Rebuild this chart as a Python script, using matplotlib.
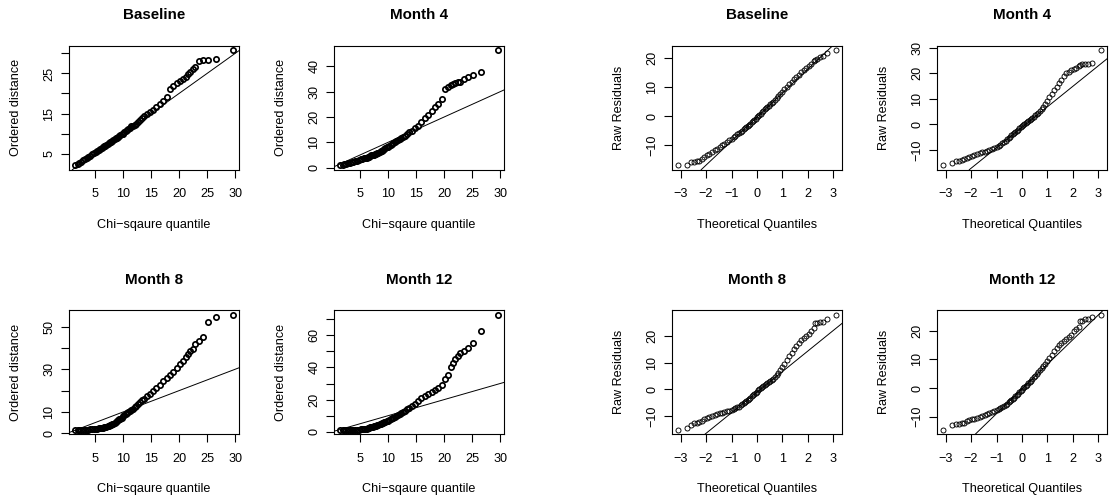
import math
from statistics import NormalDist

import matplotlib
matplotlib.use("Agg")
import matplotlib.pyplot as plt

plt.rcParams["font.family"] = ["Liberation Sans", "DejaVu Sans"]

FIG_W, FIG_H = 1114, 499
N_OBS = 500
CHISQ_DF = 10

# ranks (out of N_OBS) of the ordered observations that are drawn
chisq_ranks = [1, 2, 3, 5, 8, 12, 17, 23, 30,
               40, 50, 60, 70, 80, 90, 100, 110, 120, 130, 140, 150, 160, 170, 180, 190, 200,
               210, 220, 230, 240, 250, 260, 270, 280, 290, 300, 310, 320, 330, 340, 350,
               360, 370, 380, 390, 400, 410, 420, 430, 440, 450,
               458, 465, 471, 476, 480, 484, 487, 489,
               491, 492, 493, 494, 495, 496, 497, 498, 499, 500]

normal_ranks = [1, 2, 3, 4, 5, 6, 8, 10, 13, 16, 20, 25, 30, 36, 43, 50,
                60, 70, 80, 90, 100, 110, 120, 130, 140, 150, 160, 170, 180, 190, 200,
                210, 220, 230, 240, 250,
                260, 270, 280, 290, 300, 310, 320, 330, 340, 350, 360, 370, 380, 390,
                400, 410, 420, 430, 440,
                450, 457, 464, 470, 475, 480, 484, 487, 490, 492, 494, 495, 496, 497,
                498, 499, 500]

# ordered Mahalanobis distances
dist_baseline = [2.1, 2.4, 2.7, 3.0, 3.3, 3.6, 3.9, 4.2, 4.5,
                 4.8, 5.1, 5.4, 5.7, 6.0, 6.2, 6.4, 6.6, 6.8, 7.0, 7.2, 7.4, 7.6, 7.8, 8.0, 8.2, 8.4,
                 8.6, 8.8, 9.0, 9.2, 9.4, 9.6, 9.8, 10.0, 10.3, 10.6, 10.9, 11.2, 11.5, 11.8, 12.0,
                 12.2, 12.5, 13.0, 13.5, 14.0, 14.4, 14.9, 15.4, 16.0, 16.7,
                 17.4, 18.1, 19.0, 21.0, 21.8, 22.5, 23.0, 23.5,
                 24.2, 24.8, 25.4, 26.0, 26.6, 28.2, 28.3, 28.4, 28.5, 30.8]
dist_month4 = [1.0, 1.2, 1.4, 1.6, 1.8, 1.9, 2.1, 2.3, 2.5,
               2.8, 3.1, 3.3, 3.5, 3.7, 3.9, 4.0, 4.2, 4.4, 4.6, 4.8, 5.0, 5.1, 5.3, 5.4, 5.6, 5.8,
               6.1, 6.4, 6.7, 7.0, 7.3, 7.6, 8.0, 8.3, 8.6, 9.0, 9.4, 9.7, 10.1, 10.5, 10.9,
               11.3, 11.6, 12.1, 12.6, 13.2, 13.9, 14.6, 15.5, 16.6, 18.0,
               19.6, 20.8, 22.3, 23.8, 25.2, 27.3, 31.0, 32.0,
               32.6, 33.0, 33.4, 33.7, 34.0, 35.2, 36.0, 36.5, 37.9, 46.4]
dist_month8 = [1.7, 1.7, 1.7, 1.7, 1.7, 1.7, 1.7, 1.7, 1.8,
               1.9, 2.0, 2.1, 2.2, 2.3, 2.4, 2.5, 2.7, 2.9, 3.0, 3.1, 3.3, 3.5, 3.7, 4.0, 4.3, 4.6,
               4.9, 5.3, 5.7, 6.1, 6.5, 6.9, 7.4, 7.9, 8.4, 8.9, 9.4, 9.9, 10.5, 11.0, 11.6,
               12.2, 12.9, 13.7, 14.5, 15.4, 16.3, 17.4, 18.6, 20.0, 21.3,
               22.8, 24.3, 25.9, 27.4, 28.6, 30.4, 32.3, 34.0,
               35.8, 37.0, 38.4, 39.6, 41.7, 43.5, 45.0, 52.3, 54.7, 55.5]
dist_month12 = [1.3, 1.3, 1.3, 1.4, 1.4, 1.4, 1.4, 1.4, 1.4,
                1.4, 1.4, 1.5, 1.5, 1.6, 1.7, 1.9, 2.1, 2.4, 2.7, 2.9, 3.2, 3.4, 3.7, 3.9, 4.1, 4.4,
                4.7, 5.0, 5.3, 5.6, 5.9, 6.2, 6.6, 7.0, 7.4, 7.8, 8.3, 8.7, 9.2, 9.7, 10.3,
                10.9, 11.5, 12.2, 13.0, 13.9, 14.8, 15.8, 17.2, 19.0, 20.8,
                22.5, 23.8, 25.0, 26.0, 27.2, 29.0, 33.0, 35.5,
                40.5, 42.5, 45.5, 47.0, 49.0, 50.5, 52.4, 55.1, 62.7, 72.7]

# ordered raw residuals
resid_baseline = [-16.7, -16.7, -15.6, -15.5, -15.4, -15.2, -14.5, -14.0, -13.4, -12.9, -12.3, -11.7,
                  -11.1, -10.5, -9.9, -9.4,
                  -8.8, -8.2, -7.7, -7.2, -6.7, -6.2, -5.8, -5.4, -4.9, -4.5, -4.1, -3.7, -3.3, -2.9,
                  -2.5, -2.1, -1.7, -1.2, -0.8, -0.3,
                  0.1, 0.5, 0.9, 1.4, 1.8, 2.3, 2.7, 3.2, 3.6, 4.1, 4.5, 5.0, 5.5, 6.2, 6.9, 7.6,
                  8.4, 9.2, 10.1,
                  11.0, 11.8, 12.7, 13.5, 14.2, 15.0, 15.8, 16.4, 17.2, 17.9, 18.7, 19.1, 19.6, 20.1,
                  20.6, 21.6, 22.5]
resid_month4 = [-15.9, -15.2, -14.4, -14.2, -13.8, -13.4, -13.1, -12.8, -12.4, -12.0, -11.6, -11.2,
                -10.9, -10.6, -10.2, -9.9,
                -9.5, -9.1, -8.7, -8.3, -7.9, -7.4, -6.9, -6.3, -5.8, -5.3, -4.8, -4.3, -3.8, -3.3,
                -2.9, -2.4, -2.0, -1.5, -1.1, -0.7,
                -0.3, 0.1, 0.5, 0.9, 1.3, 1.7, 2.1, 2.5, 3.0, 3.5, 4.0, 4.6, 5.3, 6.1, 7.0, 8.1,
                9.3, 10.6, 12.0,
                13.6, 14.8, 16.2, 17.5, 18.8, 20.0, 20.7, 21.1, 21.6, 22.1, 22.9, 23.1, 23.5, 23.6,
                23.8, 24.1, 29.0]
resid_month8 = [-15.2, -14.6, -13.4, -12.8, -12.5, -12.3, -11.8, -11.3, -10.9, -10.5, -10.1, -9.7,
                -9.4, -9.1, -8.8, -8.5,
                -8.3, -8.0, -7.7, -7.4, -7.1, -6.8, -6.5, -6.1, -5.7, -5.3, -4.9, -4.5, -4.1, -3.6,
                -3.2, -2.7, -2.3, -1.8, -1.3, -0.9,
                -0.4, 0.0, 0.4, 0.8, 1.2, 1.6, 2.0, 2.4, 2.8, 3.2, 3.6, 3.9, 4.5, 5.3, 6.2, 7.2,
                8.3, 9.5, 10.9,
                12.4, 13.6, 15.0, 16.3, 17.3, 18.3, 19.1, 19.8, 20.6, 22.0, 23.0, 24.8, 25.0, 25.2,
                25.3, 26.3, 27.9]
resid_month12 = [-14.5, -12.7, -12.6, -12.5, -12.3, -12.0, -11.6, -11.2, -10.9, -10.6, -10.3, -9.9,
                 -9.6, -9.3, -8.9, -8.6,
                 -8.5, -8.1, -7.7, -7.3, -6.9, -6.5, -6.2, -5.8, -5.4, -5.0, -4.6, -4.2, -3.7, -3.3,
                 -2.8, -2.4, -1.9, -1.4, -1.0, -0.5,
                 -0.1, 0.3, 0.7, 1.2, 1.6, 2.1, 2.6, 3.1, 3.7, 4.3, 4.9, 5.5, 6.2, 6.9, 7.7, 8.5,
                 9.4, 10.4, 11.5,
                 13.0, 14.1, 15.0, 15.8, 16.5, 17.2, 17.9, 18.5, 20.0, 20.6, 21.4, 23.2, 23.4, 24.0,
                 24.2, 24.6, 25.5]

# qqline (intercept, slope) for each residual panel
qqline_baseline = (-0.3, 8.2)
qqline_month4 = (-1.1, 8.02)
qqline_month8 = (-1.1, 7.73)
qqline_month12 = (-0.3, 8.6)

chisq_xticks = [5, 10, 15, 20, 25, 30]
normal_xticks = [-3, -2, -1, 0, 1, 2, 3]

titles = ["Baseline", "Month 4", "Month 8", "Month 12"]

# axes boxes in pixels
col_left = [69, 334, 672, 937]
box_w = 170
row_top = [45.7, 310.3]
box_h = 124

TICK_FS = 9.1
TITLE_FS = 10.9


def chisq_cdf(x, df):
    k = df // 2
    h = x / 2.0
    term, total = 1.0, 0.0
    for j in range(k):
        if j > 0:
            term *= h / j
        total += term
    return 1.0 - math.exp(-h) * total


def chisq_quantile(p, df):
    lo, hi = 0.0, 200.0
    for _ in range(80):
        mid = 0.5 * (lo + hi)
        if chisq_cdf(mid, df) < p:
            lo = mid
        else:
            hi = mid
    return 0.5 * (lo + hi)


def ppoint(rank, n):
    return (rank - 0.5) / n


def r_limits(values):
    lo, hi = min(values), max(values)
    pad = 0.04 * (hi - lo)
    return lo - pad, hi + pad


def fmt(v):
    return str(v) if v >= 0 else "\u2212" + str(-v)


def add_box(fig, col, row):
    left = col_left[col]
    top = row_top[row]
    return fig.add_axes([left / FIG_W, 1 - (top + box_h) / FIG_H, box_w / FIG_W, box_h / FIG_H])


def style_axes(ax, xticks, yticks, ylabels):
    for side in ["top", "right", "bottom", "left"]:
        ax.spines[side].set_linewidth(0.8)
    ax.set_xticks(xticks)
    ax.set_xticklabels([fmt(t) for t in xticks])
    ax.set_yticks(yticks)
    ax.set_yticklabels(ylabels)
    ax.tick_params(direction="out", length=5.8, width=0.8, labelsize=TICK_FS)
    ax.tick_params(axis="x", pad=7.5)
    ax.tick_params(axis="y", pad=4.0)
    for lab in ax.get_yticklabels():
        lab.set_rotation(90)
        lab.set_verticalalignment("center")
        lab.set_horizontalalignment("right")


def label_box(fig, col, row, title, xlabel, ylabel):
    left = col_left[col]
    top = row_top[row]
    cx = left + box_w / 2
    fig.text(cx / FIG_W, 1 - (top - 30.5) / FIG_H, title, ha="center", va="center",
             fontsize=TITLE_FS, fontweight="bold")
    fig.text(cx / FIG_W, 1 - (top + box_h + 55.0) / FIG_H, xlabel, ha="center", va="center",
             fontsize=TICK_FS)
    fig.text((left - 53) / FIG_W, 1 - (top + box_h / 2) / FIG_H, ylabel, ha="center",
             va="center", rotation=90, fontsize=TICK_FS)


fig = plt.figure(figsize=(FIG_W / 100, FIG_H / 100), dpi=100)

chisq_x = [chisq_quantile(ppoint(r, N_OBS), CHISQ_DF) for r in chisq_ranks]
normal_x = [NormalDist().inv_cdf(ppoint(r, N_OBS)) for r in normal_ranks]
chisq_xlim = r_limits([chisq_quantile(ppoint(1, N_OBS), CHISQ_DF),
                       chisq_quantile(ppoint(N_OBS, N_OBS), CHISQ_DF)])
normal_xlim = r_limits([NormalDist().inv_cdf(ppoint(1, N_OBS)),
                        NormalDist().inv_cdf(ppoint(N_OBS, N_OBS))])

dist_panels = [
    (dist_baseline, [5, 10, 15, 20, 25, 30], [5, None, 15, None, 25, None]),
    (dist_month4, [0, 10, 20, 30, 40], [0, 10, 20, 30, 40]),
    (dist_month8, [0, 10, 20, 30, 40, 50], [0, 10, None, 30, None, 50]),
    (dist_month12, [0, 10, 20, 30, 40, 50, 60, 70], [0, None, 20, None, 40, None, 60, None]),
]
resid_panels = [
    (resid_baseline, qqline_baseline, [-10, 0, 10, 20]),
    (resid_month4, qqline_month4, [-10, 0, 10, 20, 30]),
    (resid_month8, qqline_month8, [-10, 0, 10, 20]),
    (resid_month12, qqline_month12, [-10, 0, 10, 20]),
]

# chi-square Q-Q plots of the distances (left block)
for i, (values, yticks, ylabels) in enumerate(dist_panels):
    col, row = i % 2, i // 2
    ax = add_box(fig, col, row)
    ax.plot(chisq_x, values, linestyle="none", marker="o", ms=3.8, mfc="none",
            mec="black", mew=1.25)
    ax.axline((0, 0), slope=1, color="black", lw=0.7)
    ax.set_xlim(*chisq_xlim)
    ax.set_ylim(*r_limits(values))
    style_axes(ax, chisq_xticks, yticks, ["" if v is None else fmt(v) for v in ylabels])
    label_box(fig, col, row, titles[i], "Chi\u2212sqaure quantile", "Ordered distance")

# normal Q-Q plots of the residuals (right block)
for i, (values, (b0, b1), yticks) in enumerate(resid_panels):
    col, row = 2 + i % 2, i // 2
    ax = add_box(fig, col, row)
    ax.plot(normal_x, values, linestyle="none", marker="o", ms=3.6, mfc="none",
            mec="black", mew=0.65)
    ax.axline((0, b0), slope=b1, color="black", lw=0.7)
    ax.set_xlim(*normal_xlim)
    ax.set_ylim(*r_limits(values))
    style_axes(ax, normal_xticks, yticks, [fmt(v) for v in yticks])
    label_box(fig, col, row, titles[i], "Theoretical Quantiles", "Raw Residuals")

fig.savefig("out.png", dpi=100)
